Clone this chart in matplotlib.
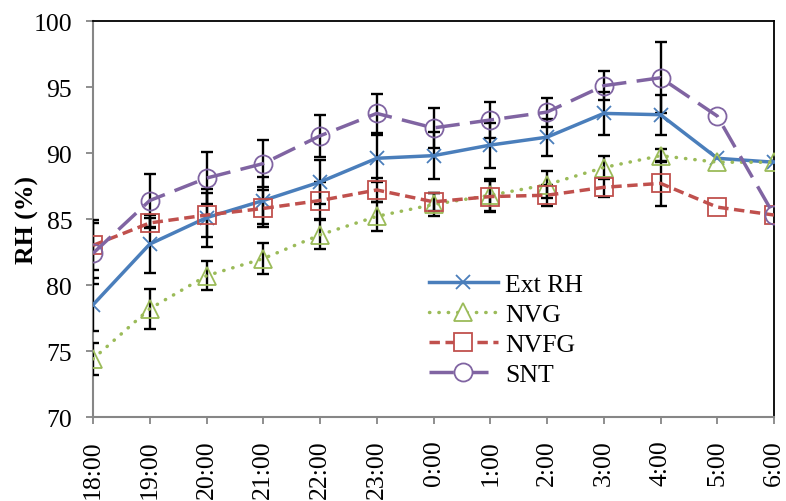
import numpy as np
import matplotlib
matplotlib.use('Agg')
import matplotlib.pyplot as plt

# Hourly relative humidity (%) with standard deviation
hours = ['18:00', '19:00', '20:00', '21:00', '22:00', '23:00', '0:00',
         '1:00', '2:00', '3:00', '4:00', '5:00', '6:00']

ext_rh = [78.5, 83.1, 85.1, 86.4, 87.8, 89.6, 89.8, 90.6, 91.2, 93.0, 92.9, 89.6, 89.3]
nvg    = [74.4, 78.2, 80.7, 82.0, 83.8, 85.2, 86.1, 86.8, 87.6, 88.9, 89.8, 89.3, 89.3]
nvfg   = [83.0, 84.7, 85.3, 85.8, 86.4, 87.2, 86.3, 86.7, 86.8, 87.4, 87.7, 85.9, 85.3]
snt    = [82.4, 86.4, 88.1, 89.2, 91.3, 93.0, 91.9, 92.5, 93.1, 95.1, 95.7, 92.8, 85.3]

nan = np.nan
ext_rh_sd = [2.0, 2.2, 2.2, 1.8, 1.7, 1.8, 1.8, 1.7, 1.4, 1.6, 1.5, nan, nan]
nvg_sd    = [1.2, 1.5, 1.1, 1.2, 1.1, 1.1, 0.9, 1.2, 1.0, 0.9, 0.5, nan, nan]
nvfg_sd   = [1.9, 0.4, 1.7, 1.4, 1.4, 0.9, 0.7, 1.2, 0.8, 0.7, 1.7, nan, nan]
snt_sd    = [2.3, 2.0, 2.0, 1.8, 1.6, 1.5, 1.5, 1.4, 1.1, 1.1, 2.7, nan, nan]

plt.rcParams['font.family'] = ['Liberation Serif', 'DejaVu Serif']
plt.rcParams['font.size'] = 18.5

x = np.arange(len(hours))

fig = plt.figure(figsize=(7.86, 5.02), dpi=100)
ax = fig.add_axes([93/786, 1 - 418/502, (774-93)/786, (418-22)/502])

series = [
    ('Ext RH', ext_rh, ext_rh_sd, '#4A7EBB', '-', 'x', 10),
    ('NVG', nvg, nvg_sd, '#9BBB59', (0, (0.1, 2.6)), '^', 13),
    ('NVFG', nvfg, nvfg_sd, '#C0504D', (0, (3, 1.6)), 's', 12.5),
    ('SNT', snt, snt_sd, '#8064A2', (0, (7, 3)), 'o', 13),
]

for name, vals, sd, col, ls, mk, ms in series:
    ax.errorbar(x, vals, yerr=sd, fmt='none', ecolor='black', elinewidth=1.7,
                capsize=4.3, capthick=1.7, zorder=3)

for name, vals, sd, col, ls, mk, ms in series:
    ax.plot(x, vals, color=col, linestyle=ls, linewidth=2.5, marker=mk,
            markersize=ms, markerfacecolor='none', markeredgecolor=col,
            markeredgewidth=1.3, label=name, zorder=4,
            dash_capstyle='round' if name == 'NVG' else 'butt')

ax.set_xlim(0, len(hours) - 1)
ax.set_ylim(70, 100)
ax.set_yticks(np.arange(70, 101, 5))
ax.set_xticks(x)
ax.set_xticklabels(hours, rotation=90)
ax.set_ylabel('RH (%)', fontweight='bold')
ax.yaxis.set_label_coords(-0.079, 0.5)

for s in ['left', 'bottom']:
    ax.spines[s].set_color('#868686')
    ax.spines[s].set_linewidth(1.5)
for s in ['top', 'right']:
    ax.spines[s].set_color('black')
    ax.spines[s].set_linewidth(1.3)
ax.tick_params(axis='both', direction='out', length=5, width=1.3,
               color='#868686')
ax.tick_params(axis='y', pad=10)
ax.tick_params(axis='x', pad=11)

leg = ax.legend(loc='upper left', bbox_to_anchor=(0.493, 0.363), frameon=False,
                handlelength=2.7, handletextpad=0.27, labelspacing=0.27,
                borderpad=0, borderaxespad=0)
for h in leg.legend_handles:
    h.set_markerfacecolor('white')

fig.savefig('out.png', dpi=100)
